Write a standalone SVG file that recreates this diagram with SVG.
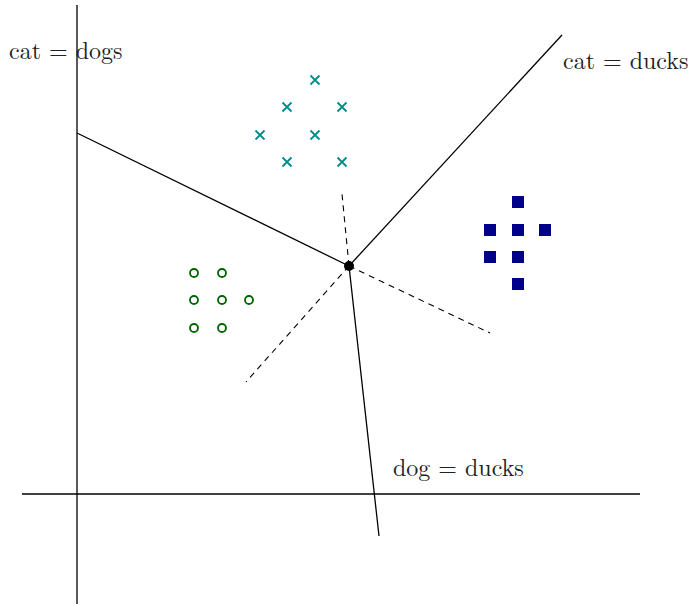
<svg xmlns="http://www.w3.org/2000/svg" width="690" height="605" viewBox="0 0 690 605">
<style>
.ax{stroke:#000;stroke-width:1.3;fill:none}
.ln{stroke:#000;stroke-width:1.3;fill:none}
.ds{stroke:#000;stroke-width:1.1;fill:none;stroke-dasharray:6,5}
.o{fill:none;stroke:#006400;stroke-width:1.8}
.x{stroke:#008B8B;stroke-width:1.8}
.s{fill:#00008B}
.t{font-family:"Latin Modern Roman","DejaVu Serif","Liberation Serif",serif;font-size:24px;fill:#222}
</style>
<rect width="690" height="605" fill="#fff"/>
<g id="connectors">
<line class="ax" x1="77" y1="5" x2="77" y2="604"/>
<line class="ax" x1="22" y1="494" x2="640" y2="494"/>
<line class="ln" x1="349" y1="266" x2="77" y2="133"/>
<line class="ln" x1="349" y1="266" x2="562" y2="35"/>
<line class="ln" x1="349" y1="266" x2="379" y2="536"/>
<line class="ds" x1="349" y1="266" x2="342" y2="194"/>
<line class="ds" x1="349" y1="266" x2="490" y2="333"/>
<line class="ds" x1="349" y1="266" x2="246" y2="382"/>
</g>
<g id="center"><circle cx="349" cy="266" r="5" fill="#000"/></g>
<g id="dogs">
<circle class="o" cx="194" cy="273" r="4"/>
<circle class="o" cx="222" cy="273" r="4"/>
<circle class="o" cx="194" cy="300" r="4"/>
<circle class="o" cx="222" cy="300" r="4"/>
<circle class="o" cx="249" cy="300" r="4"/>
<circle class="o" cx="194" cy="328" r="4"/>
<circle class="o" cx="222" cy="328" r="4"/>
</g>
<g id="cats">
<path class="x" d="M310.5,75.5l9,9m0,-9l-9,9 M282.5,102.5l9,9m0,-9l-9,9 M337.5,102.5l9,9m0,-9l-9,9 M255.5,130.5l9,9m0,-9l-9,9 M310.5,130.5l9,9m0,-9l-9,9 M282.5,157.5l9,9m0,-9l-9,9 M337.5,157.5l9,9m0,-9l-9,9"/>
</g>
<g id="ducks">
<rect class="s" x="512" y="196" width="12" height="12"/>
<rect class="s" x="484" y="224" width="12" height="12"/>
<rect class="s" x="512" y="224" width="12" height="12"/>
<rect class="s" x="539" y="224" width="12" height="12"/>
<rect class="s" x="484" y="251" width="12" height="12"/>
<rect class="s" x="512" y="251" width="12" height="12"/>
<rect class="s" x="512" y="278" width="12" height="12"/>
</g>
<g id="labels">
<text class="t" x="9" y="59">cat = dogs</text>
<text class="t" x="563" y="69">cat = ducks</text>
<text class="t" x="393" y="476">dog = ducks</text>
</g>
</svg>
